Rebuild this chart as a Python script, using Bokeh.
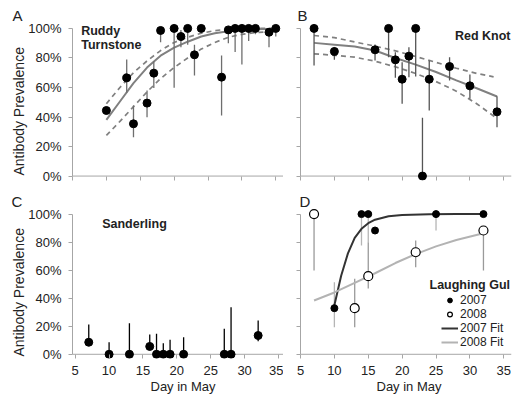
import math
from bokeh.plotting import figure
from bokeh.layouts import column, row
from bokeh.models import (Range1d, FixedTicker, NumeralTickFormatter, Span,
                          Label, Legend, LegendItem, Title, CustomJSTickFormatter)
from bokeh.embed import file_html
from bokeh.resources import INLINE

# ---------------- data ----------------
x_ticks = [5, 10, 15, 20, 25, 30, 35]
y_ticks = [0, 0.2, 0.4, 0.6, 0.8, 1.0]

# A: Ruddy Turnstone
rt_day = [10, 13, 14, 16, 17, 18, 20, 21, 22, 23, 24, 27, 28, 29, 30, 31, 32, 34, 35]
rt_prev = [0.444, 0.665, 0.354, 0.494, 0.697, 0.986, 1.0, 0.945, 1.0, 0.821, 1.0,
           0.67, 0.99, 1.0, 1.0, 1.0, 1.0, 0.974, 1.0]
rt_lo = [0.444, 0.565, 0.263, 0.399, 0.596, 0.907, 0.598, 0.873, 0.89, 0.681, 0.975,
         0.41, 0.90, 0.84, 0.755, 0.915, 0.96, 0.873, 0.945]
rt_hi = [0.444, 0.79, 0.478, 0.579, 0.777, 1.0, 1.0, 0.99, 1.0, 0.89, 1.0,
         0.817, 1.0, 1.0, 1.0, 1.0, 1.0, 1.0, 1.0]
rt_fit_day = [10, 12, 14, 16, 18, 20, 22, 24, 26, 28, 30, 32, 35]
rt_fit = [0.38, 0.505, 0.63, 0.735, 0.815, 0.87, 0.91, 0.945, 0.967, 0.981, 0.99, 0.995, 0.998]
rt_fit_up = [0.49, 0.60, 0.70, 0.78, 0.85, 0.905, 0.94, 0.967, 0.985, 0.995, 1.0, 1.0, 1.0]
rt_fit_low = [0.275, 0.37, 0.47, 0.57, 0.66, 0.735, 0.80, 0.86, 0.905, 0.94, 0.96, 0.972, 0.98]

# B: Red Knot
rk_day = [7, 10, 16, 18, 19, 20, 21, 22, 23, 24, 27, 30, 34]
rk_prev = [1.0, 0.844, 0.855, 1.0, 0.787, 0.656, 0.812, 1.0, 0.0, 0.656, 0.742, 0.611, 0.435]
rk_lo = [0.749, 0.787, 0.783, 0.805, 0.666, 0.489, 0.670, 0.674, 0.0, 0.444, 0.647, 0.523, 0.331]
rk_hi = [1.0, 0.873, 0.891, 1.0, 0.839, 0.771, 0.873, 1.0, 0.395, 0.783, 0.805, 0.688, 0.541]
rk_fit_day = [7, 10, 13, 16, 19, 22, 25, 28, 31, 34]
rk_fit = [0.902, 0.890, 0.877, 0.85, 0.80, 0.755, 0.705, 0.648, 0.595, 0.539]
rk_fit_up_day = [7, 10, 13, 16, 19, 22, 25, 28, 31, 33.5]
rk_fit_up = [0.952, 0.938, 0.908, 0.88, 0.848, 0.81, 0.77, 0.73, 0.695, 0.672]
rk_fit_low = [0.828, 0.818, 0.805, 0.778, 0.74, 0.695, 0.64, 0.575, 0.49, 0.39]

# C: Sanderling
sa_day = [7, 10, 13, 16, 17, 18, 19, 21, 27, 28, 32]
sa_prev = [0.086, 0.0, 0.0, 0.056, 0.0, 0.0, 0.0, 0.0, 0.0, 0.0, 0.134]
sa_lo = [0.063, 0.0, 0.0, 0.056, 0.0, 0.0, 0.0, 0.0, 0.0, 0.0, 0.093]
sa_hi = [0.213, 0.086, 0.222, 0.141, 0.146, 0.079, 0.103, 0.122, 0.182, 0.336, 0.241]

# D: Laughing Gull
lg07_day = [10, 14, 15, 16, 25, 32]
lg07_prev = [0.329, 1.0, 1.0, 0.883, 1.0, 1.0]
lg07_lo = [0.193, 0.776, 0.80, 0.883, 0.883, 1.0]
lg07_hi = [0.514, 1.0, 1.0, 0.883, 1.0, 1.0]
lg08_day = [7, 13, 15, 22, 32]
lg08_prev = [1.0, 0.329, 0.557, 0.728, 0.883]
lg08_lo = [0.598, 0.193, 0.469, 0.621, 0.598]
lg08_hi = [1.0, 0.539, 0.80, 0.812, 0.883]
lg07_fit_day = [10, 11, 12, 13, 14, 15, 16, 18, 20, 24, 28, 32]
lg07_fit = [0.35, 0.56, 0.72, 0.83, 0.895, 0.935, 0.96, 0.985, 0.993, 0.999, 1.0, 1.0]
lg08_fit_day = [7, 10, 13, 16, 19, 22, 25, 28, 32]
lg08_fit = [0.384, 0.441, 0.51, 0.578, 0.651, 0.715, 0.77, 0.815, 0.864]
legend_labels = ["2007", "2008", "2007 Fit", "2008 Fit"]

# ---------------- styling / geometry ----------------
FONT = "Liberation Sans"
AXIS = "#a6a6a6"
TXT = "#222222"
FRAME_W = 211
TOP_H, BOT_H = 158, 150
YR = (-0.03, 1.04)


def make_fig(width, height, left, right, top, bottom, xr, xlab, ylab):
    p = figure(width=width, height=height, x_range=Range1d(*xr), y_range=Range1d(*YR),
               output_backend="svg", toolbar_location=None,
               min_border_left=left, min_border_right=right,
               min_border_top=top, min_border_bottom=bottom)
    p.grid.visible = False
    p.outline_line_color = None
    p.background_fill_color = "white"
    p.border_fill_color = "white"
    xa = p.xaxis[0]
    xa.ticker = FixedTicker(ticks=x_ticks)
    xa.axis_line_color = None
    xa.major_tick_in = 4
    xa.major_tick_out = 0
    xa.major_tick_line_color = AXIS
    xa.minor_tick_line_color = None
    xa.major_label_text_font = FONT
    xa.major_label_text_color = TXT
    if xlab:
        xa.major_label_text_font_size = "13px"
        xa.major_label_standoff = 7
    else:
        xa.formatter = CustomJSTickFormatter(code="return ''")
        xa.major_label_text_font_size = "0px"
        xa.major_label_standoff = 0
    ya = p.yaxis[0]
    ya.ticker = FixedTicker(ticks=y_ticks)
    ya.bounds = (0, 1)
    ya.axis_line_color = AXIS
    ya.major_tick_line_color = AXIS
    ya.major_tick_in = 0
    ya.major_tick_out = 4
    ya.minor_tick_line_color = None
    ya.major_label_text_font = FONT
    ya.major_label_text_color = TXT
    if ylab:
        ya.formatter = NumeralTickFormatter(format="0%")
        ya.major_label_text_font_size = "13px"
        ya.major_label_standoff = 7
    else:
        ya.formatter = CustomJSTickFormatter(code="return ''")
        ya.major_label_text_font_size = "0px"
        ya.major_label_standoff = 0
    p.add_layout(Span(location=0, dimension="width", line_color=AXIS,
                      line_width=1, level="underlay"))
    return p


def panel_letter(p, text, offset):
    t = p.title
    t.text = text
    t.align = "left"
    t.offset = offset
    t.standoff = -4
    t.vertical_align = "middle"
    t.text_font = FONT
    t.text_font_size = "15px"
    t.text_font_style = "normal"
    t.text_color = TXT


def side_title(p, side, text, size, offset, standoff):
    p.add_layout(Title(text=text, align="left", offset=offset, standoff=standoff,
                       vertical_align="middle", text_font=FONT, text_font_size=size,
                       text_font_style="normal", text_color=TXT), side)


def page_to_data(p, fx0, fy0, fh, px, py):
    x0, x1 = p.x_range.start, p.x_range.end
    y0, y1 = p.y_range.start, p.y_range.end
    return (x0 + (px - fx0) / FRAME_W * (x1 - x0),
            y1 - (py - fy0) / fh * (y1 - y0))


def add_text(p, geom, px, py, text, size, style="normal", align="left"):
    x, y = page_to_data(p, *geom, px, py)
    p.add_layout(Label(x=x, y=y, text=text, text_font=FONT, text_font_size=size,
                       text_font_style=style, text_color=TXT, text_align=align,
                       text_baseline="middle"))


XR = (5, 5 + FRAME_W / 6.776)
XR_C = (4.6, 4.6 + FRAME_W / 6.776)

pA = make_fig(283, 190, 72, 0, 22, 10, XR, False, True)
pB = make_fig(231, 190, 17, 3, 22, 10, XR, False, False)
pC = make_fig(283, 208, 72, 0, 18, 40, XR_C, True, True)
pD = make_fig(231, 208, 17, 3, 18, 40, XR, True, False)

gA = (72, 22, TOP_H)
gB = (300, 22, TOP_H)
gC = (72, 208, BOT_H)
gD = (300, 208, BOT_H)

FIT = "#808080"

# ---- A ----
pA.line(rt_fit_day, rt_fit_up, line_color=FIT, line_width=1.7, line_dash="5 4")
pA.line(rt_fit_day, rt_fit_low, line_color=FIT, line_width=1.7, line_dash="5 4")
pA.line(rt_fit_day, rt_fit, line_color=FIT, line_width=2)
pA.segment(x0=rt_day, y0=rt_lo, x1=rt_day, y1=rt_hi, line_color="#6e6e6e", line_width=1.3)
pA.scatter(rt_day, rt_prev, size=8, fill_color="black", line_color="black")
panel_letter(pA, "A", -60)
side_title(pA, "left", "Antibody Prevalence", "14px", 5, -4)
add_text(pA, gA, 80.7, 30, "Ruddy", "12.5px", "bold")
add_text(pA, gA, 80.7, 44, "Turnstone", "12.5px", "bold")

# ---- B ----
pB.line(rk_fit_up_day, rk_fit_up, line_color=FIT, line_width=1.7, line_dash="5 4")
pB.line(rk_fit_day, rk_fit_low, line_color=FIT, line_width=1.7, line_dash="5 4")
pB.line(rk_fit_day, rk_fit, line_color=FIT, line_width=2)
pB.segment(x0=rk_day, y0=rk_lo, x1=rk_day, y1=rk_hi, line_color="#555555", line_width=1.3)
pB.scatter(rk_day, rk_prev, size=8, fill_color="black", line_color="black")
panel_letter(pB, "B", -3)
add_text(pB, gB, 510, 35, "Red Knot", "12.5px", "bold", align="right")

# ---- C ----
pC.segment(x0=sa_day, y0=sa_lo, x1=sa_day, y1=sa_hi, line_color="black", line_width=1.3)
pC.scatter(sa_day, sa_prev, size=8, fill_color="black", line_color="black")
panel_letter(pC, "C", -61)
side_title(pC, "left", "Antibody Prevalence", "14px", 2, -4)
side_title(pC, "below", "Day in May", "13px", 78, 0)
add_text(pC, gC, 101.7, 223.3, "Sanderling", "12.5px", "bold")

# ---- D ----
pD.segment(x0=lg07_day, y0=lg07_lo, x1=lg07_day, y1=lg07_hi, line_color="#b5b5b5", line_width=1.3)
pD.segment(x0=lg08_day, y0=lg08_lo, x1=lg08_day, y1=lg08_hi, line_color="#9a9a9a", line_width=1.3)
r07f = pD.line(lg07_fit_day, lg07_fit, line_color="#333333", line_width=2)
r08f = pD.line(lg08_fit_day, lg08_fit, line_color="#b3b3b3", line_width=2)
r08 = pD.scatter(lg08_day, lg08_prev, size=9, fill_color="white", line_color="black", line_width=1.2)
r07 = pD.scatter(lg07_day, lg07_prev, size=7, fill_color="black", line_color="black")
panel_letter(pD, "D", -1)
side_title(pD, "below", "Day in May", "13px", 76, 0)
add_text(pD, gD, 429, 284.3, "Laughing Gul", "12.5px", "bold")

# one single-row legend per entry, so the rows can sit as tightly as in the original
legend_rows_y = [51, 37, 23, 9]
for lab, rend, ly in zip(legend_labels, [r07, r08, r07f, r08f], legend_rows_y):
    lg = Legend(items=[LegendItem(label=lab, renderers=[rend])],
                location=(141, ly), padding=0, margin=0, spacing=0,
                glyph_width=17, glyph_height=12, label_height=12, label_standoff=2,
                label_text_font=FONT, label_text_font_size="12px", label_text_color=TXT,
                border_line_color=None, background_fill_alpha=0)
    pD.add_layout(lg)

layout = column(row(pA, pB), row(pC, pD))
open("out.html", "w").write(file_html(layout, INLINE))
